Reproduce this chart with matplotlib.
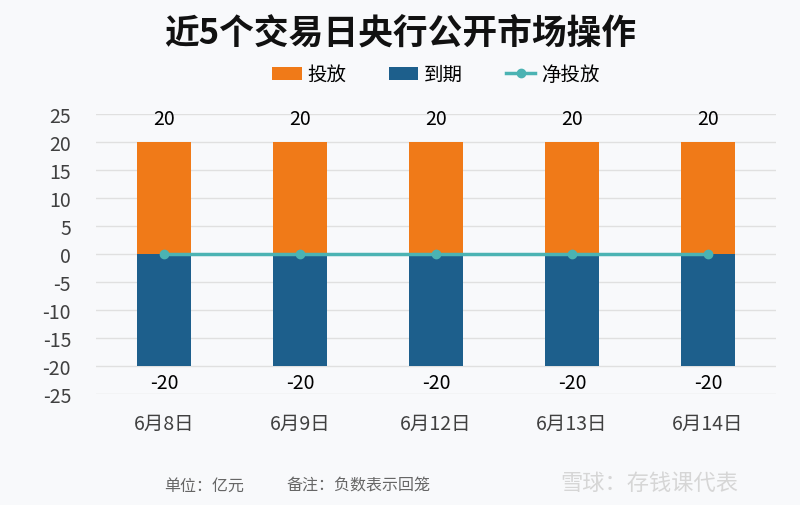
import matplotlib.pyplot as plt
import numpy as np

plt.rcParams['font.family'] = ['Noto Sans CJK SC', 'DejaVu Sans']
plt.rcParams['axes.unicode_minus'] = False

dates = ['6月8日', '6月9日', '6月12日', '6月13日', '6月14日']
release = [20, 20, 20, 20, 20]
maturity = [-20, -20, -20, -20, -20]
net = [0, 0, 0, 0, 0]

bg = '#f8f9fb'
orange = '#f07a18'
blue = '#1d5f8c'
teal = '#4bb3b3'

fig = plt.figure(figsize=(8, 5.06), dpi=100, facecolor=bg)
ax = fig.add_axes([0.12, 0.22, 0.85, 0.553])
ax.set_facecolor(bg)

x = np.arange(len(dates))
b1 = ax.bar(x, release, width=0.4, color=orange, label='投放', zorder=2)
b2 = ax.bar(x, maturity, width=0.4, color=blue, label='到期', zorder=2)
ln, = ax.plot(x, net, color=teal, lw=2.5, marker='o', ms=6, label='净投放', zorder=3)

for xi, v in zip(x, release):
    ax.text(xi, v + 4.1, f'{v}', ha='center', va='center', fontsize=14)
for xi, v in zip(x, maturity):
    ax.text(xi, v - 3.0, f'{v}', ha='center', va='center', fontsize=14)

ax.set_ylim(-25, 25)
ax.set_yticks(range(-25, 26, 5))
ax.set_xlim(-0.5, 4.5)
ax.set_xticks(x)
ax.set_xticklabels(dates, fontsize=14, color='#404040')
ax.tick_params(axis='y', labelsize=14, colors='#404040', length=0, pad=18)
ax.tick_params(axis='x', length=0, pad=14)
ax.yaxis.grid(True, color='#e0e0e0', lw=1, zorder=0)
for s in ax.spines.values():
    s.set_visible(False)

fig.text(0.5, 0.935, '近5个交易日央行公开市场操作', ha='center', va='center',
         fontsize=25, fontweight='bold', color='#111111')
ax.legend([b1, b2, ln], ['投放', '到期', '净投放'], loc='center',
          bbox_to_anchor=(0.5, 1.14), ncol=3, frameon=False,
          fontsize=14, handlelength=1.5, columnspacing=2.2, handletextpad=0.3)

fig.text(0.205, 0.04, '单位：亿元', fontsize=11.5, color='#666666', va='center')
fig.text(0.358, 0.04, '备注：负数表示回笼', fontsize=11.5, color='#666666', va='center')
fig.text(0.70, 0.045, '雪球：存钱课代表', fontsize=16, color='#d6d6d6', va='center')

fig.savefig('out.png', dpi=100, facecolor=bg)
